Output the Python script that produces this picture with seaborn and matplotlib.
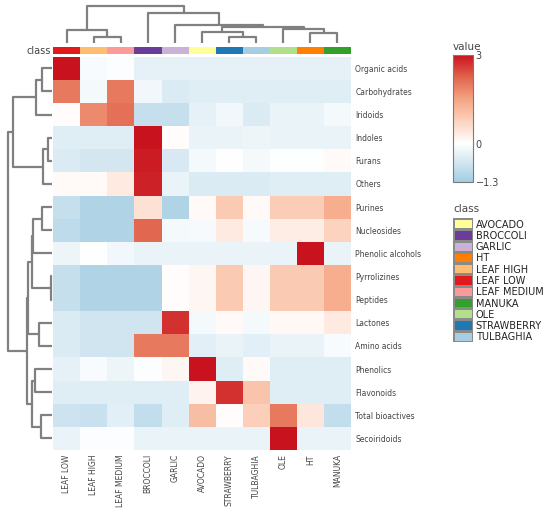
import numpy as np
import pandas as pd
import matplotlib
matplotlib.use('Agg')
import matplotlib.pyplot as plt
import seaborn as sns
from matplotlib.colors import LinearSegmentedColormap, ListedColormap

# Dados
compostos = ['Organic acids', 'Carbohydrates', 'Iridoids', 'Indoles', 'Furans', 'Others',
             'Purines', 'Nucleosides', 'Phenolic alcohols', 'Pyrrolizines', 'Peptides',
             'Lactones', 'Amino acids', 'Phenolics', 'Flavonoids', 'Total bioactives',
             'Secoiridoids']
amostras = ['LEAF LOW', 'LEAF HIGH', 'LEAF MEDIUM', 'BROCCOLI', 'GARLIC', 'AVOCADO',
            'STRAWBERRY', 'TULBAGHIA', 'OLE', 'HT', 'MANUKA']

valores = [
    [3.0, -0.1, -0.05, -0.35, -0.35, -0.35, -0.35, -0.35, -0.35, -0.35, -0.35],
    [2.0, -0.15, 2.0, -0.2, -0.5, -0.45, -0.45, -0.45, -0.45, -0.45, -0.45],
    [0.05, 1.8, 2.1, -0.8, -0.8, -0.35, -0.2, -0.5, -0.3, -0.3, -0.15],
    [-0.45, -0.45, -0.45, 3.0, 0.05, -0.3, -0.3, -0.25, -0.3, -0.3, -0.3],
    [-0.5, -0.6, -0.6, 2.9, -0.55, -0.15, -0.02, -0.15, -0.03, -0.03, 0.08],
    [0.1, 0.1, 0.35, 2.85, -0.3, -0.5, -0.5, -0.5, -0.45, -0.45, -0.45],
    [-0.8, -1.1, -1.1, 0.5, -1.1, 0.1, 0.9, 0.1, 0.85, 0.85, 1.35],
    [-0.9, -1.1, -1.1, 2.2, -0.15, -0.12, 0.35, -0.12, 0.3, 0.3, 0.75],
    [-0.25, -0.03, -0.2, -0.3, -0.3, -0.3, -0.3, -0.3, -0.3, 3.0, -0.3],
    [-0.8, -1.1, -1.1, -1.1, 0.05, 0.15, 0.9, 0.15, 0.9, 0.9, 1.35],
    [-0.8, -1.1, -1.1, -1.1, 0.05, 0.15, 0.9, 0.15, 0.9, 0.9, 1.35],
    [-0.5, -0.65, -0.65, -0.65, 2.7, -0.15, 0.08, -0.15, 0.12, 0.12, 0.35],
    [-0.5, -0.65, -0.65, 2.0, 2.0, -0.4, -0.3, -0.4, -0.3, -0.3, -0.1],
    [-0.35, -0.1, -0.25, -0.05, 0.15, 3.0, -0.45, 0.1, -0.45, -0.45, -0.45],
    [-0.45, -0.45, -0.45, -0.45, -0.45, 0.2, 2.7, 1.0, -0.45, -0.45, -0.45],
    [-0.7, -0.75, -0.4, -0.85, -0.45, 1.1, 0.05, 0.8, 2.0, 0.4, -0.85],
    [-0.3, -0.05, -0.05, -0.3, -0.3, -0.3, -0.3, -0.3, 3.0, -0.3, -0.3],
]

classes = ['AVOCADO', 'BROCCOLI', 'GARLIC', 'HT', 'LEAF HIGH', 'LEAF LOW', 'LEAF MEDIUM',
           'MANUKA', 'OLE', 'STRAWBERRY', 'TULBAGHIA']
cores_classes = ['#FFFF99', '#6A3D9A', '#CAB2D6', '#FF7F00', '#FDBF6F', '#E31A1C',
                 '#FB9A99', '#33A02C', '#B2DF8A', '#1F78B4', '#A6CEE3']

# agrupamentos (a, b, altura) - ids novos comecam em n
linkage_linhas = [(0, 1, 30), (17, 2, 48), (3, 4, 12), (19, 5, 25), (18, 20, 115),
                  (6, 7, 28), (22, 8, 56), (9, 10, 3), (23, 24, 58), (11, 12, 37),
                  (25, 26, 72), (13, 14, 50), (15, 16, 33), (28, 29, 60), (27, 30, 75),
                  (21, 31, 130)]
linkage_colunas = [(1, 2, 20), (0, 11, 40), (6, 7, 20), (5, 13, 35), (9, 10, 32),
                   (8, 15, 43), (14, 16, 50), (4, 17, 55), (3, 18, 90), (12, 19, 112)]

df = pd.DataFrame(valores, index=compostos, columns=amostras)

# Escala de cores
vmin, vmax = -1.3, 3.0
paradas = [-1.3, 0, 0.75, 1.5, 2.25, 3.0]
cores_paradas = ['#a3cce2', '#ffffff', '#fcd3bf', '#f4a582', '#e1634e', '#c8121e']
cmap = LinearSegmentedColormap.from_list(
    'escala', [((v - vmin) / (vmax - vmin), c) for v, c in zip(paradas, cores_paradas)])

W, H = 550, 515
def caixa(x0, y0, x1, y1):
    return [x0 / W, 1 - y1 / H, (x1 - x0) / W, (y1 - y0) / H]

fig = plt.figure(figsize=(5.5, 5.15), dpi=100)
ax_hm = fig.add_axes(caixa(53.3, 56.7, 351, 450))
ax_cls = fig.add_axes(caixa(53.3, 47.3, 351, 54.3))
ax_top = fig.add_axes(caixa(53.3, 6, 351, 43.3))
ax_left = fig.add_axes(caixa(8.3, 56.7, 51.7, 450))
cax = fig.add_axes(caixa(453, 55, 473, 182))
ax_leg = fig.add_axes(caixa(453, 218, 473, 342))

cor_texto = '#444444'

sns.heatmap(df, ax=ax_hm, cmap=cmap, vmin=vmin, vmax=vmax, cbar_ax=cax,
            cbar_kws={'ticks': [-1.3, 0, 3]}, xticklabels=True, yticklabels=True)
ax_hm.yaxis.tick_right()
ax_hm.tick_params(axis='both', length=0, labelsize=5.5, colors=cor_texto, pad=3)
ax_hm.set_yticklabels(compostos, rotation=0)
ax_hm.set_xticklabels(amostras, rotation=90)
ax_hm.set_xlabel('')
ax_hm.set_ylabel('')

cax.set_yticklabels(['\u22121.3', '0', '3'])
cax.tick_params(length=0, labelsize=7, colors=cor_texto, pad=2)
cbar = ax_hm.collections[0].colorbar
cbar.outline.set_edgecolor('#7a7a7a')
cbar.outline.set_linewidth(0.8)
fig.text(453 / W, 1 - 47 / H, 'value', fontsize=7.5, color=cor_texto, va='center')

# barra de classes
codigos = np.array([[classes.index(a) for a in amostras]])
cmap_cls = ListedColormap(cores_classes)
sns.heatmap(codigos, ax=ax_cls, cmap=cmap_cls, vmin=-0.5, vmax=len(classes) - 0.5,
            cbar=False, xticklabels=False, yticklabels=False)
fig.text(51 / W, 1 - 51 / H, 'class', fontsize=7, color=cor_texto, ha='right', va='center')

# legenda de classes
sns.heatmap(np.arange(len(classes)).reshape(-1, 1), ax=ax_leg, cmap=cmap_cls,
            vmin=-0.5, vmax=len(classes) - 0.5, cbar=False, linewidths=0.8,
            linecolor='#8a8a8a', xticklabels=False, yticklabels=classes)
ax_leg.yaxis.tick_right()
ax_leg.tick_params(length=0, labelsize=7, colors='#222222', pad=2)
ax_leg.set_yticklabels(classes, rotation=0)
fig.text(453 / W, 1 - 209 / H, 'class', fontsize=7.5, color=cor_texto, va='center')


# dendrogramas
def desenha_dendro(ax, linkage, n, orient):
    pos = {i: i + 0.5 for i in range(n)}
    alt = {i: 0 for i in range(n)}
    for k, (a, b, h) in enumerate(linkage):
        xs = [pos[a], pos[a], pos[b], pos[b]]
        ys = [alt[a], h, h, alt[b]]
        if orient == 'top':
            ax.plot(xs, ys, color='#808080', lw=1.6, clip_on=False, solid_capstyle='butt')
        else:
            ax.plot(ys, xs, color='#808080', lw=1.6, clip_on=False, solid_capstyle='butt')
        pos[n + k] = (pos[a] + pos[b]) / 2
        alt[n + k] = h
    topo = linkage[-1][2]
    if orient == 'top':
        ax.set_xlim(0, n)
        ax.set_ylim(0, topo)
    else:
        ax.set_ylim(n, 0)
        ax.set_xlim(topo, 0)
    ax.axis('off')

desenha_dendro(ax_top, linkage_colunas, len(amostras), 'top')
desenha_dendro(ax_left, linkage_linhas, len(compostos), 'left')

fig.savefig('out.png', dpi=100)
